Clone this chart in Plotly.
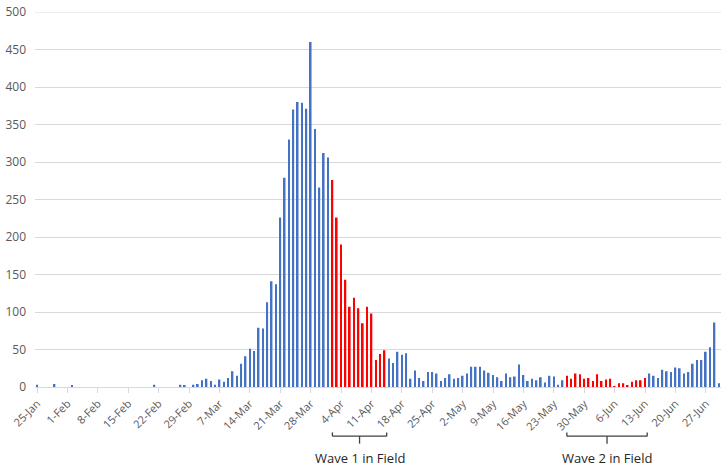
import pandas as pd
import plotly.graph_objects as go

# ---- data ----
start_date = "2020-01-25"
end_date = "2020-06-30"
daily_counts = [
    3, 0, 0, 0, 4, 0, 0, 0, 2, 0,
    0, 0, 0, 0, 0, 0, 0, 0, 0, 0,
    0, 0, 0, 0, 0, 0, 0, 3, 0, 0,
    0, 0, 0, 3, 2, 0, 3, 4, 9, 11,
    8, 3, 10, 7, 12, 21, 15, 31, 41, 51,
    48, 79, 78, 113, 141, 137, 226, 279, 330, 370,
    380, 379, 371, 460, 344, 266, 312, 306, 276, 226,
    190, 143, 107, 119, 105, 85, 107, 98, 36, 44,
    49, 38, 32, 47, 43, 45, 11, 22, 12, 8,
    20, 20, 18, 8, 12, 17, 11, 12, 15, 18,
    27, 27, 27, 22, 19, 16, 13, 8, 18, 13,
    14, 30, 16, 8, 11, 9, 13, 6, 15, 14,
    3, 9, 15, 11, 18, 17, 11, 12, 8, 17,
    8, 10, 11, 1, 5, 5, 2, 7, 9, 9,
    12, 18, 15, 12, 23, 21, 20, 26, 25, 18,
    20, 31, 36, 36, 47, 53, 86, 5,
]
wave1 = ("2020-04-02", "2020-04-14", "Wave 1 in Field")
wave2 = ("2020-05-26", "2020-06-13", "Wave 2 in Field")
y_max = 500

dates = pd.date_range(start_date, end_date, freq="D")
BLUE = "#4472C4"
RED = "#FF0000"

def in_wave(d):
    for w in (wave1, wave2):
        if pd.Timestamp(w[0]) <= d <= pd.Timestamp(w[1]):
            return True
    return False

colors = [RED if in_wave(d) else BLUE for d in dates]

fig = go.Figure(go.Bar(
    x=dates, y=daily_counts, marker_color=colors, marker_line_width=0,
    width=0.38 * 86400000,
))

tick_dates = pd.date_range(start_date, end_date, freq="7D")
GRID = "#d9d9d9"
fig.update_layout(
    width=724, height=467,
    margin=dict(l=35, r=3, t=6, b=80),
    paper_bgcolor="white", plot_bgcolor="white",
    showlegend=False,
    font=dict(family="Open Sans, Lato, sans-serif", size=11, color="#595959"),
)
fig.update_xaxes(
    type="date",
    range=[dates[0] - pd.Timedelta(hours=12), dates[-1] + pd.Timedelta(hours=12)],
    tickvals=tick_dates,
    ticktext=[d.strftime("%-d-%b") for d in tick_dates],
    tickangle=-45,
    ticks="outside", ticklen=5, tickcolor=GRID,
    showline=True, linecolor=GRID, linewidth=1,
    showgrid=False, zeroline=False,
    tickfont=dict(size=11, color="#595959"),
)
fig.update_yaxes(
    range=[0, y_max], dtick=50,
    showgrid=True, gridcolor=GRID, gridwidth=1,
    zeroline=False, showline=False,
    ticks="", ticklabelstandoff=8,
    ticklabeloverflow="allow",
    tickfont=dict(size=12, color="#595959"),
)
# top gridline (plotly omits the one on the plot edge)
fig.add_shape(type="line", xref="paper", yref="y", x0=0, x1=1, y0=y_max, y1=y_max,
              line=dict(color=GRID, width=1), layer="below")

# brackets under the axis
y_line, y_end, y_tick, y_text = -0.131, -0.121, -0.151, -0.19
for s, e, label in (wave1, wave2):
    x0 = pd.Timestamp(s)
    x1 = pd.Timestamp(e) + pd.Timedelta(hours=12)
    xm = x0 + (x1 - x0) / 2
    line = dict(color="#404040", width=1.3)
    for (a, b, c, d) in ((x0, y_line, x1, y_line), (x0, y_line, x0, y_end),
                         (x1, y_line, x1, y_end), (xm, y_line, xm, y_tick)):
        fig.add_shape(type="line", xref="x", yref="paper",
                      x0=a, y0=b, x1=c, y1=d, line=line)
    fig.add_annotation(x=xm, y=y_text, xref="x", yref="paper", text=label,
                       showarrow=False, yanchor="middle",
                       font=dict(size=13, color="#262626"))

fig.write_html("out.html", config={"displayModeBar": False})

# remove the default page margin so the figure sits at the window's corner
with open("out.html", "r", encoding="utf-8") as f:
    html = f.read()
html = html.replace("<head>", "<head><style>html,body{margin:0;padding:0;overflow:hidden;}</style>", 1)
with open("out.html", "w", encoding="utf-8") as f:
    f.write(html)
